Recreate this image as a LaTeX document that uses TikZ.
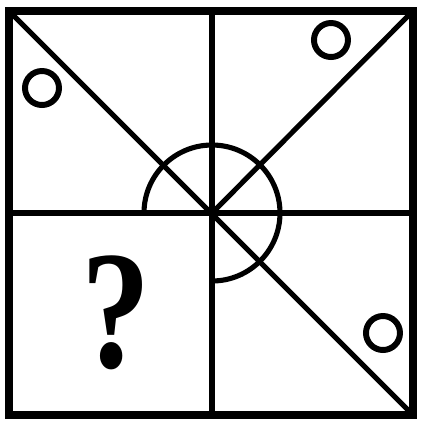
\documentclass[tikz,border=0pt]{standalone}
\usepackage{fontspec}
\setmainfont{Liberation Serif}
\begin{document}
\begin{tikzpicture}[x=0.01cm,y=-0.01cm,
  frame/.style={line width=2pt},
  inner/.style={line width=1.45pt},
  ring/.style={line width=1.7pt}]
\useasboundingbox (0,0) rectangle (421,423);
\coordinate (tl) at (9,11);
\coordinate (tr) at (413,11);
\coordinate (bl) at (9,415);
\coordinate (br) at (413,415);
\coordinate (c) at (212,213);
\coordinate (tm) at (212,11);
\coordinate (bm) at (212,415);
\coordinate (lm) at (9,213);
\coordinate (rm) at (413,213);
\draw[inner] (tm) -- (bm);
\draw[inner] (lm) -- (rm);
\draw[inner] (tl) -- (br);
\draw[inner] (c) -- (tr);
\draw[inner] (144,213) arc[start angle=180,end angle=450,radius=68];
\draw[frame] (tl) rectangle (br);
\draw[ring] (42,88) circle[radius=17];
\draw[ring] (331,40) circle[radius=17];
\draw[ring] (383,333) circle[radius=17];
\node[font=\fontsize{48}{48}\selectfont\bfseries,xscale=0.82] (q) at (116,313) {?};
\end{tikzpicture}
\end{document}
